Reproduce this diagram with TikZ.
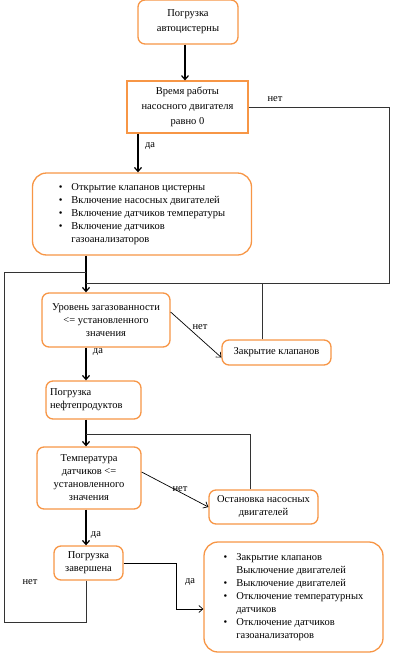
\documentclass[tikz,border=0pt]{standalone}
\usepackage{fontspec}
\setmainfont{Liberation Serif}
\usetikzlibrary{arrows.meta,calc}
\definecolor{boxorange}{HTML}{F79646}
\begin{document}
\begin{tikzpicture}[x=1pt,y=-1pt,
  font=\fontsize{10.5}{13}\selectfont,
  box/.style={draw=boxorange,line width=1.3pt,fill=white,inner sep=2pt,align=center},
  rbox/.style={box,rounded corners=7pt},
  bigbox/.style={box,rounded corners=14pt},
  arr/.style={line width=1.2pt,-{Straight Barb[length=4pt,width=7pt]}},
  narr/.style={line width=0.7pt,-{Straight Barb[length=4pt,width=7pt]}},
  fb/.style={line width=0.7pt,draw=black!80},
  lab/.style={inner sep=0pt}]
\useasboundingbox (0,0) rectangle (413,656);

\node[rbox,minimum width=100,minimum height=44,font=\fontsize{10.5}{15}\selectfont] (b1) at (188,22) {Погрузка\\автоцистерны};
\node[box,line width=1.1pt,minimum width=121,minimum height=52,font=\fontsize{10.5}{15}\selectfont] (b2) at (187.5,107) {Время работы\\насосного двигателя\\равно 0};
\node[bigbox,minimum width=219,minimum height=82] (b3) at (142,214)
  {\begin{tabular}{@{}c@{\hspace{9pt}}l@{}}
  \textbullet & Открытие клапанов цистерны\\
  \textbullet & Включение насосных двигателей\\
  \textbullet & Включение датчиков температуры\\
  \textbullet & Включение датчиков\\
   & газоанализаторов
  \end{tabular}};
\node[rbox,minimum width=128,minimum height=54] (b4) at (106,320) {Уровень загазованности\\<= установленного\\значения};
\node[rbox,minimum width=109,minimum height=25] (b5) at (276.5,352.5) {Закрытие клапанов};
\node[rbox,minimum width=95,minimum height=38,text width=87,align=left] (b6) at (93.5,400) {Погрузка\\нефтепродуктов};
\node[rbox,minimum width=104,minimum height=62] (b7) at (89,478) {Температура\\датчиков <=\\установленного\\значения};
\node[rbox,minimum width=109,minimum height=34] (b8) at (263.5,507) {Остановка насосных\\двигателей};
\node[rbox,minimum width=69,minimum height=34] (b9) at (88.5,563) {Погрузка\\завершена};
\node[bigbox,minimum width=179,minimum height=110] (b10) at (293.5,597)
  {\begin{tabular}{@{}c@{\hspace{9pt}}l@{}}
  \textbullet & Закрытие клапанов\\
   & Выключение двигателей\\
  \textbullet & Выключение двигателей\\
  \textbullet & Отключение температурных\\
   & датчиков\\
  \textbullet & Отключение датчиков\\
   & газоанализаторов
  \end{tabular}};

\coordinate (j0) at (86,272);
\coordinate (j1) at (86,283);
\coordinate (r1) at (389,283);
\coordinate (j2) at (86,434);
\coordinate (l1) at (4,622);
\coordinate (l2) at (4,272);
\coordinate (k) at (176,609);

% main flow
\draw[arr] ([xshift=-3]b1.south) -- ([xshift=-3]b1.south |- b2.north);
\draw[arr] ([xshift=-49.5]b2.south) -- ([xshift=-49.5]b2.south |- b3.north);
\draw[arr] (b3.south -| j0) -- (b4.north -| j0);
\draw[arr] (b4.south -| j0) -- (b6.north -| j0);
\draw[arr] (b6.south -| j0) -- (b7.north -| j0);
\draw[arr] (b7.south -| j0) -- (b9.north -| j0);

% no branches
\draw[narr] ([yshift=8]b4.east) -- ([yshift=-5]b5.west);
\draw[narr] ([yshift=6]b7.east) -- (b8.west);
\draw[narr] (b9.east) -| (k) -- (k -| b10.west);

% feedback lines
\draw[fb] (b2.east) -| (r1) -- (j1);
\draw[fb] ([xshift=-14.5]b5.north) -- ([xshift=-14.5]b5.north |- j1);
\draw[fb] ([xshift=-13.5]b8.north) |- (j2);
\draw[fb] (b9.south -| j0) |- (l1) -- (l2) -- (j0);

% labels
\node[lab] (n1) at (275,99) {нет};
\node[lab] (d1) at (150,146) {да};
\node[lab] (n2) at (200,327) {нет};
\node[lab] (d2) at (98,352) {да};
\node[lab] (n3) at (180,489) {нет};
\node[lab] (d3) at (96,535) {да};
\node[lab] (d4) at (190,582) {да};
\node[lab] (n4) at (30,582) {нет};
\end{tikzpicture}
\end{document}
